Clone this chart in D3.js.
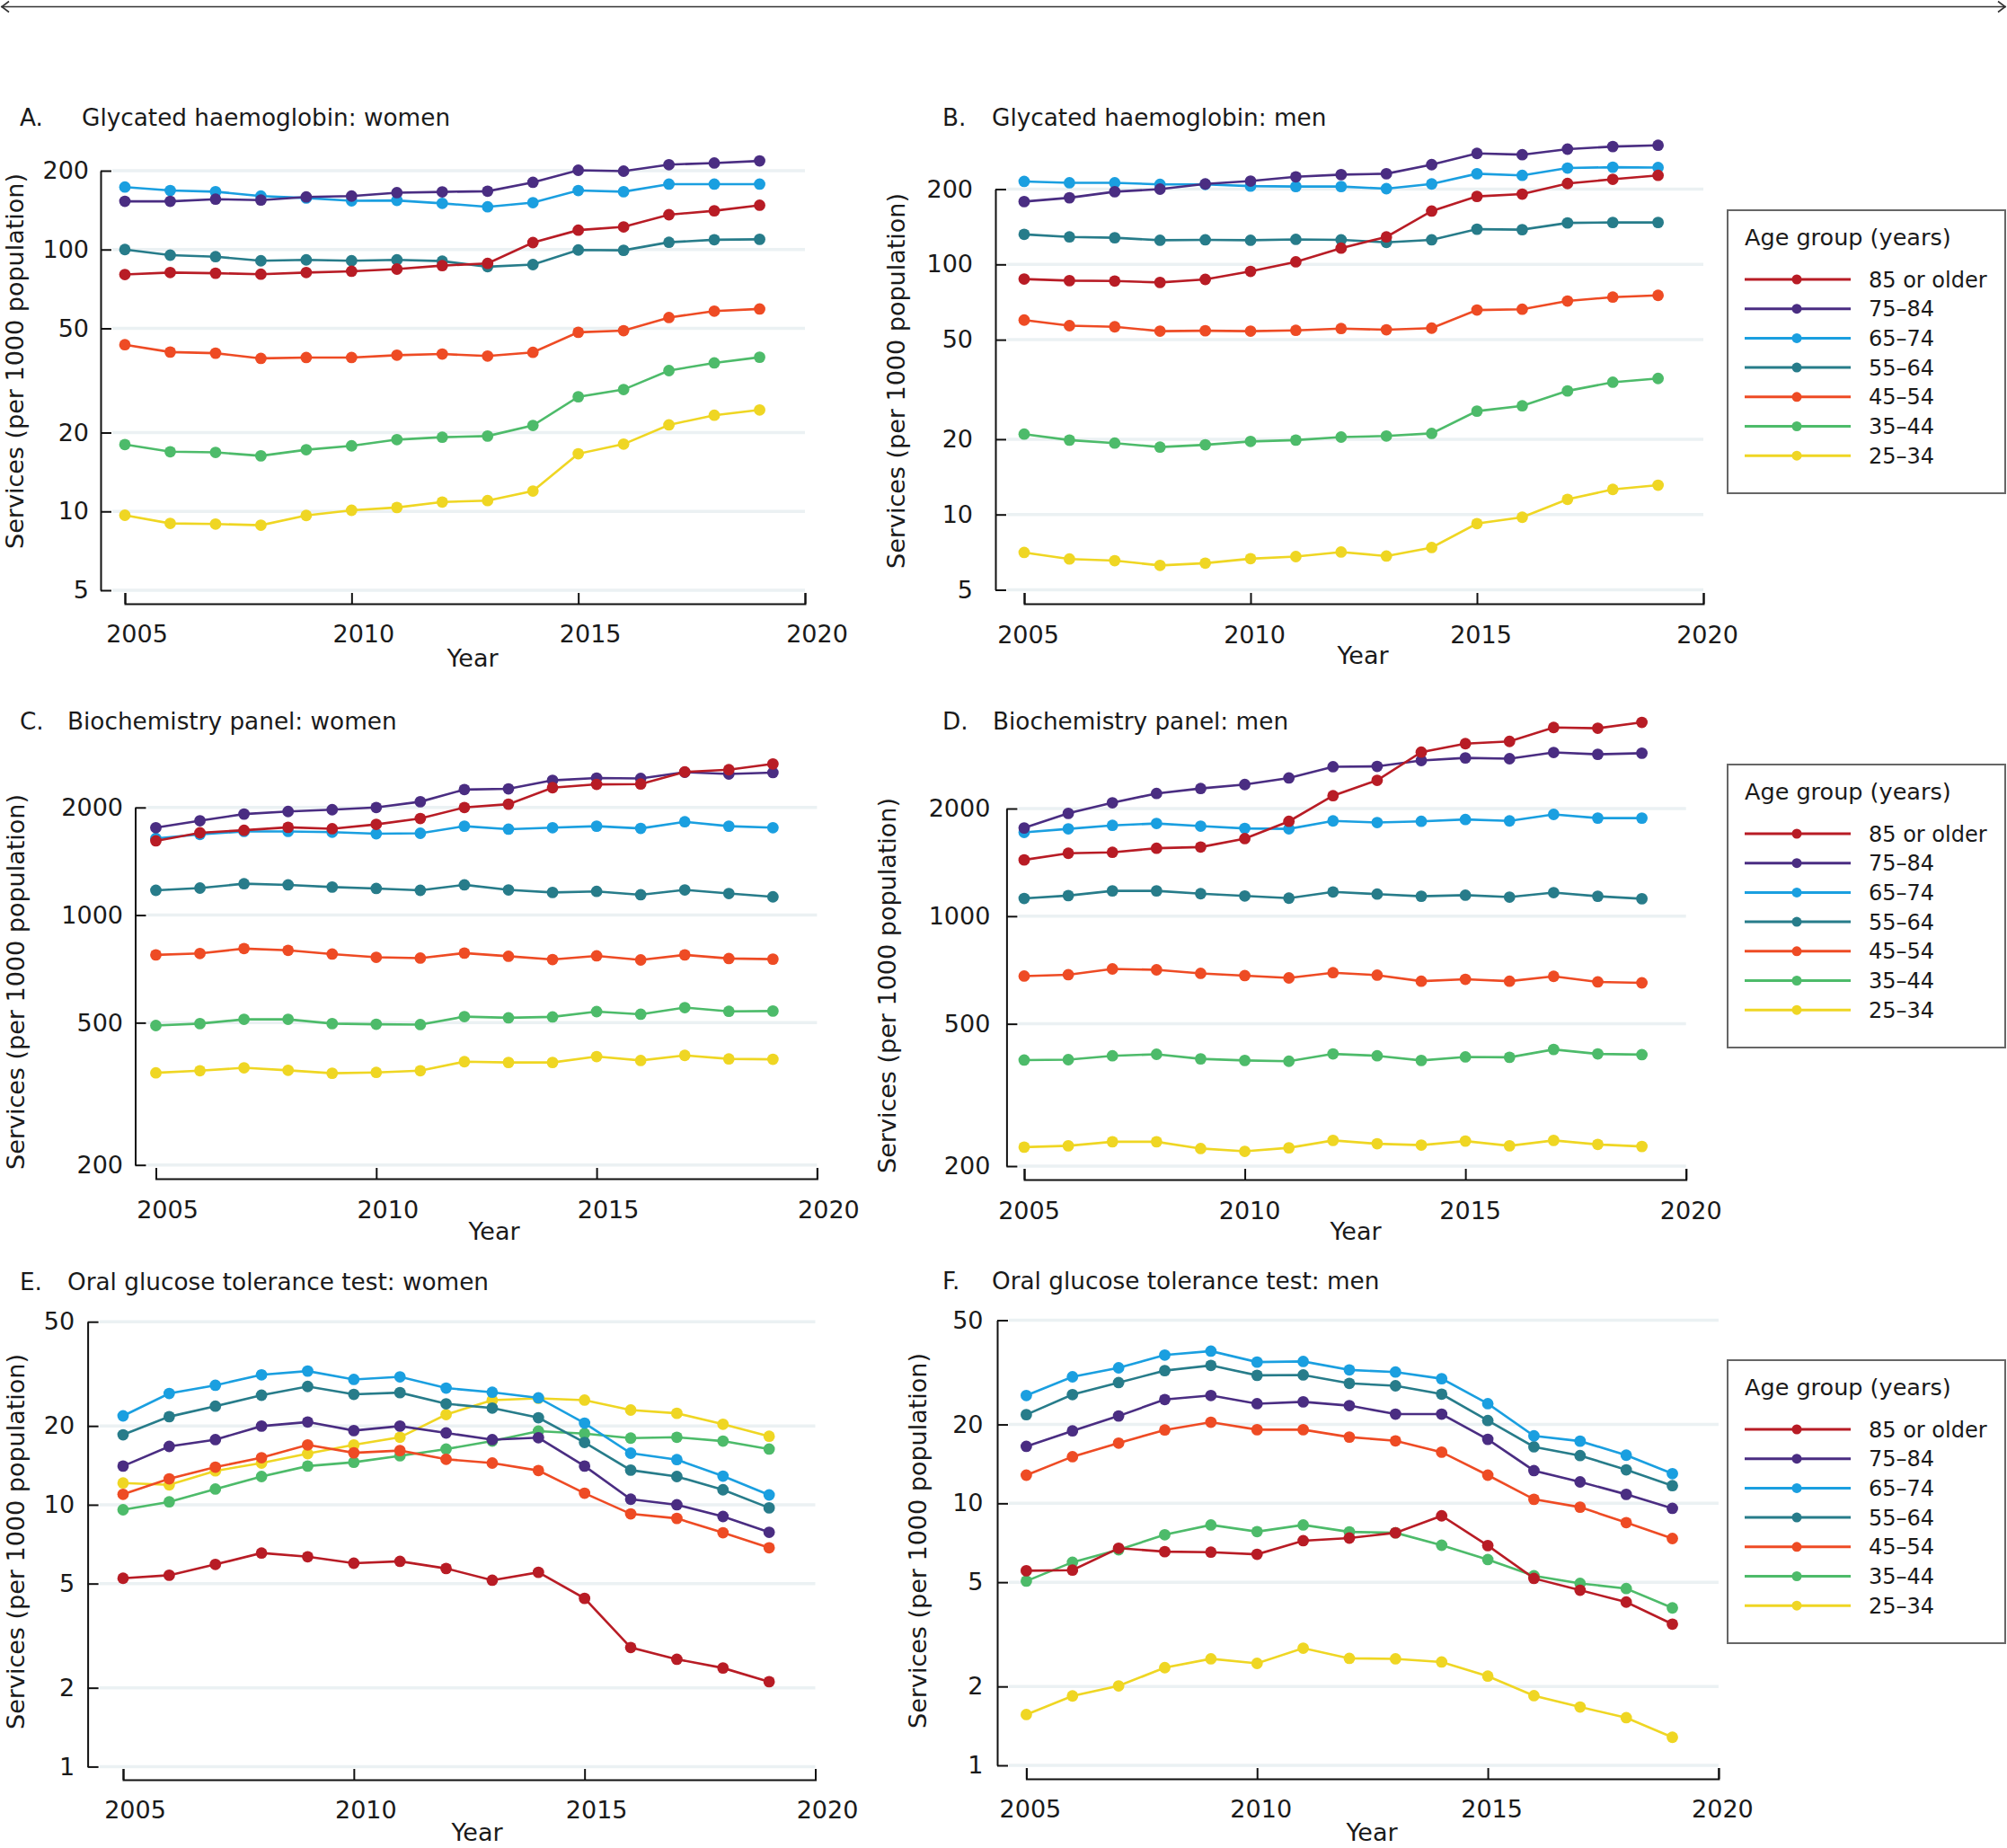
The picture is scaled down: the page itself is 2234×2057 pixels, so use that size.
<!DOCTYPE html>
<html>
<head>
<meta charset="utf-8">
<script src="https://cdn.jsdelivr.net/npm/d3@7"></script>
<style>
  body { margin: 0; background: #fff; }
  svg { display: block; }
  text { font-family: "DejaVu Sans", sans-serif; fill: #1a1a1a; }
</style>
</head>
<body>
<script>
// Data (services per 1000 population)
const years = d3.range(2005, 2020);
const ageGroups = ["85 or older", "75–84", "65–74", "55–64", "45–54", "35–44", "25–34"];
const ageColors = ["#b81c25", "#4a2d82", "#1a9fe0", "#277c8a", "#ee4b24", "#4dbb6a", "#efd623"];

// rows follow ageGroups order
const hbaWomen = [
  [80.3, 81.7, 81.2, 80.5, 81.7, 82.6, 84.2, 86.8, 88.5, 106.3, 118.6, 122, 135.8, 140.6, 147.6],
  [152.8, 152.8, 155.7, 154.5, 158.8, 160, 164.9, 166, 167, 180.6, 200.8, 199.2, 210.9, 214, 218],
  [173.2, 168, 166.3, 160, 157.3, 153.5, 154, 150.1, 145.6, 151, 168, 166.3, 177.7, 177.7, 177.7],
  [100, 95.2, 93.9, 90.6, 91.3, 90.6, 91.3, 90.3, 86, 87.6, 99.6, 99.3, 106.6, 109, 109.4],
  [43.3, 40.6, 40.2, 38.4, 38.7, 38.7, 39.5, 39.9, 39.2, 40.5, 48.3, 49, 55, 58.2, 59.3],
  [18, 16.9, 16.8, 16.3, 17.2, 17.8, 18.8, 19.2, 19.4, 21.3, 27.4, 29.2, 34.5, 36.9, 38.8],
  [9.67, 9.0, 8.95, 8.86, 9.65, 10.1, 10.35, 10.86, 11.0, 11.96, 16.6, 18.07, 21.4, 23.3, 24.4]
];
const hbaMen = [
  [87.4, 86.1, 85.8, 84.7, 87.1, 93.8, 102.4, 116.2, 128.8, 163.4, 187, 191, 210.6, 219, 227],
  [178.3, 184.7, 195.3, 200, 209.7, 215.4, 224, 228.5, 230.4, 250.6, 277.8, 274.6, 289, 296, 299.5],
  [214.7, 212, 212, 208.9, 208.9, 205.6, 204.8, 204.8, 200.8, 209.7, 230.4, 227, 242.8, 244.7, 243.9],
  [131.9, 128.8, 127.8, 124.9, 125.4, 124.9, 125.9, 125.4, 122.5, 125.4, 138.3, 137.7, 146.5, 147.1, 147.1],
  [59.9, 56.9, 56.3, 54.1, 54.3, 54.1, 54.5, 55.4, 54.8, 55.6, 65.7, 66.2, 71.4, 74, 75.2],
  [20.97, 19.84, 19.3, 18.6, 19.0, 19.6, 19.84, 20.4, 20.6, 21.1, 25.9, 27.2, 31.2, 33.8, 35.0],
  [7.05, 6.64, 6.54, 6.26, 6.39, 6.66, 6.79, 7.08, 6.82, 7.38, 9.2, 9.75, 11.5, 12.6, 13.1]
];
const bioWomen = [
  [1613, 1699, 1727, 1760, 1744, 1794, 1863, 2000, 2043, 2272, 2321, 2326, 2515, 2551, 2648],
  [1756, 1836, 1917, 1949, 1972, 2000, 2076, 2245, 2255, 2382, 2417, 2411, 2510, 2481, 2504],
  [1639, 1681, 1714, 1714, 1706, 1689, 1694, 1773, 1739, 1756, 1773, 1748, 1824, 1773, 1756],
  [1173, 1190, 1224, 1215, 1198, 1187, 1173, 1215, 1176, 1157, 1165, 1140, 1176, 1149, 1125],
  [774, 781, 806, 797, 778, 762, 758, 783, 767, 751, 769, 749, 774, 756, 753],
  [491, 497, 511, 511, 497, 495, 494, 520, 516, 519, 537, 528, 551, 538, 539],
  [362, 367, 374, 368, 361, 363, 367, 389, 387, 387, 402, 392, 405, 396, 395]
];
const bioMen = [
  [1437, 1500, 1509, 1549, 1561, 1648, 1842, 2173, 2399, 2877, 3038, 3082, 3371, 3355, 3484],
  [1765, 1939, 2076, 2204, 2276, 2335, 2436, 2618, 2624, 2725, 2771, 2757, 2870, 2836, 2857],
  [1715, 1755, 1795, 1817, 1786, 1760, 1755, 1847, 1828, 1842, 1864, 1847, 1926, 1881, 1881],
  [1121, 1142, 1177, 1177, 1156, 1139, 1123, 1169, 1153, 1137, 1145, 1131, 1164, 1137, 1119],
  [680, 686, 712, 708, 692, 682, 672, 695, 684, 658, 666, 658, 679, 655, 651],
  [396, 397, 407, 411, 399, 395, 393, 412, 407, 395, 404, 403, 424, 412, 410],
  [226, 228, 234, 234, 224, 220, 225, 236, 231, 229, 235, 228, 236, 230, 227]
];
const ogttWomen = [
  [5.24, 5.38, 5.92, 6.54, 6.33, 5.98, 6.08, 5.71, 5.15, 5.52, 4.39, 2.85, 2.57, 2.38, 2.11],
  [14.05, 16.7, 17.73, 19.97, 20.7, 19.2, 19.97, 18.8, 17.73, 18.03, 14.05, 10.5, 10.0, 9.02, 7.85],
  [21.85, 26.6, 28.6, 31.35, 32.4, 30.1, 30.8, 27.9, 26.9, 25.6, 20.5, 15.74, 14.87, 12.86, 10.9],
  [18.5, 21.7, 23.8, 26.2, 28.3, 26.4, 26.8, 24.3, 23.4, 21.5, 17.3, 13.56, 12.82, 11.41, 9.73],
  [10.96, 12.56, 13.92, 15.12, 16.93, 15.79, 16.1, 14.92, 14.43, 13.51, 11.07, 9.23, 8.87, 7.82, 6.85],
  [9.57, 10.26, 11.48, 12.82, 14.05, 14.53, 15.38, 16.32, 17.5, 19.1, 18.7, 17.97, 18.1, 17.5, 16.32],
  [12.11, 11.91, 13.47, 14.43, 15.68, 16.93, 18.1, 22.1, 25.1, 25.5, 25.1, 23.0, 22.35, 20.3, 18.26]
];
const ogttMen = [
  [5.53, 5.56, 6.74, 6.54, 6.51, 6.39, 7.2, 7.37, 7.72, 8.96, 6.9, 5.17, 4.66, 4.2, 3.46],
  [16.5, 18.9, 21.55, 24.9, 25.8, 24.0, 24.4, 23.6, 21.9, 21.9, 17.55, 13.33, 12.07, 10.82, 9.57],
  [25.8, 30.4, 32.9, 36.8, 38.1, 34.6, 34.8, 32.3, 31.7, 29.9, 24.0, 18.1, 17.27, 15.27, 12.98],
  [21.8, 26.0, 28.9, 32.1, 33.6, 30.8, 30.9, 28.7, 28.1, 26.1, 20.7, 16.43, 15.22, 13.42, 11.68],
  [12.81, 15.07, 16.98, 19.06, 20.4, 19.1, 19.1, 17.9, 17.32, 15.68, 12.81, 10.36, 9.67, 8.44, 7.34],
  [5.05, 5.96, 6.65, 7.59, 8.27, 7.8, 8.27, 7.78, 7.72, 6.92, 6.1, 5.29, 4.95, 4.73, 3.99],
  [1.563, 1.84, 2.01, 2.36, 2.55, 2.45, 2.8, 2.56, 2.55, 2.48, 2.19, 1.845, 1.67, 1.52, 1.28]
];

const xTicks = [2005, 2010, 2015, 2020];
const hbaTicks = [5, 10, 20, 50, 100, 200];
const bioTicks = [200, 500, 1000, 2000];
const ogttTicks = [1, 2, 5, 10, 20, 50];

const panels = [
  { letter: "A.", title: "Glycated haemoglobin: women", data: hbaWomen, ticks: hbaTicks,
    axisX: 112, yTop: 190, yBottom: 657, x0: 139, x1: 896, xAxisY: 672, gap: 13,
    letterX: 22, titleX: 91, titleY: 140, labOff: 13, labY: 715, yearX: 526, yearY: 742,
    ytX: 16, ytY: 402, legend: null },
  { letter: "B.", title: "Glycated haemoglobin: men", data: hbaMen, ticks: hbaTicks,
    axisX: 1108, yTop: 210.5, yBottom: 656.5, x0: 1140, x1: 1896, xAxisY: 672, gap: 25,
    letterX: 1049, titleX: 1104, titleY: 140, labOff: 4, labY: 716, yearX: 1517, yearY: 739,
    ytX: 997, ytY: 424, legend: 234 },
  { letter: "C.", title: "Biochemistry panel: women", data: bioWomen, ticks: bioTicks,
    axisX: 150.5, yTop: 898.8, yBottom: 1296.7, x0: 173.5, x1: 909.4, xAxisY: 1312, gap: 13.5,
    letterX: 22, titleX: 75, titleY: 812, labOff: 12.5, labY: 1356, yearX: 550, yearY: 1380,
    ytX: 17, ytY: 1093, legend: null },
  { letter: "D.", title: "Biochemistry panel: men", data: bioMen, ticks: bioTicks,
    axisX: 1120.4, yTop: 900, yBottom: 1298, x0: 1140, x1: 1876.7, xAxisY: 1313, gap: 18,
    letterX: 1049, titleX: 1105, titleY: 812, labOff: 5, labY: 1357, yearX: 1509, yearY: 1380,
    ytX: 987, ytY: 1097, legend: 851 },
  { letter: "E.", title: "Oral glucose tolerance test: women", data: ogttWomen, ticks: ogttTicks,
    axisX: 97.6, yTop: 1471.2, yBottom: 1966.4, x0: 137, x1: 907.5, xAxisY: 1981, gap: 14.5,
    letterX: 22, titleX: 75, titleY: 1436, labOff: 13, labY: 2024, yearX: 531, yearY: 2049,
    ytX: 17, ytY: 1716, legend: null },
  { letter: "F.", title: "Oral glucose tolerance test: men", data: ogttMen, ticks: ogttTicks,
    axisX: 1110, yTop: 1469.5, yBottom: 1965, x0: 1142.4, x1: 1912.9, xAxisY: 1980, gap: 15.5,
    letterX: 1049, titleX: 1104, titleY: 1435, labOff: 4, labY: 2023, yearX: 1527, yearY: 2048.5,
    ytX: 1021, ytY: 1715, legend: 1514 }
];

const W = 2234, H = 2057;
const fontSize = 27;
const titleSize = 26.3;

const svg = d3.select("body").append("svg")
    .attr("width", W)
    .attr("height", H)
    .attr("viewBox", [0, 0, W, H]);

// Top double-headed rule
const rule = svg.append("g").attr("stroke", "#333").attr("stroke-width", 1.6).attr("fill", "none");
rule.append("line").attr("x1", 1).attr("x2", W - 1).attr("y1", 7.5).attr("y2", 7.5);
rule.append("path").attr("d", "M10,1.5 L2,7.5 L10,13.5");
rule.append("path").attr("d", `M${W - 10},1.5 L${W - 2},7.5 L${W - 10},13.5`);

panels.forEach(p => {
    const g = svg.append("g");

    const x = d3.scaleLinear().domain([2005, 2020]).range([p.x0, p.x1]);
    const y = d3.scaleLog()
        .domain([p.ticks[0], p.ticks[p.ticks.length - 1]])
        .range([p.yBottom, p.yTop]);

    // Gridlines
    g.append("g").selectAll("line")
        .data(p.ticks)
        .join("line")
        .attr("x1", p.axisX + 13)
        .attr("x2", p.x1)
        .attr("y1", d => y(d))
        .attr("y2", d => y(d))
        .attr("stroke", "#ebf1f3")
        .attr("stroke-width", 3.5);

    // Y axis
    const yAxis = g.append("g")
        .attr("transform", `translate(${p.axisX},0)`)
        .call(d3.axisLeft(y)
            .tickValues(p.ticks)
            .tickFormat(d3.format("d"))
            .tickSizeInner(-12)
            .tickSizeOuter(0)
            .tickPadding(p.gap));
    yAxis.attr("font-family", null).attr("font-size", null);
    yAxis.selectAll("path, line").attr("stroke", "#111").attr("stroke-width", 2);
    yAxis.selectAll("text").style("font-size", fontSize + "px").attr("fill", "#1a1a1a");

    // X axis
    const xAxis = g.append("g")
        .attr("transform", `translate(0,${p.xAxisY})`)
        .call(d3.axisBottom(x)
            .tickValues(xTicks)
            .tickFormat(d3.format("d"))
            .tickSize(-12));
    xAxis.attr("font-family", null).attr("font-size", null);
    xAxis.selectAll("path, line").attr("stroke", "#111").attr("stroke-width", 2);
    xAxis.selectAll("text")
        .style("font-size", fontSize + "px")
        .attr("fill", "#1a1a1a")
        .attr("x", p.labOff)
        .attr("y", p.labY - p.xAxisY)
        .attr("dy", 0);

    // Titles
    g.append("text").attr("x", p.letterX).attr("y", p.titleY)
        .style("font-size", titleSize + "px").text(p.letter);
    g.append("text").attr("x", p.titleX).attr("y", p.titleY)
        .style("font-size", titleSize + "px").text(p.title);

    g.append("text")
        .attr("x", p.yearX).attr("y", p.yearY)
        .attr("text-anchor", "middle")
        .style("font-size", fontSize + "px")
        .text("Year");

    g.append("text")
        .attr("transform", `translate(${p.ytX},${p.ytY}) rotate(-90)`)
        .attr("text-anchor", "middle")
        .attr("dy", "0.36em")
        .style("font-size", fontSize + "px")
        .text("Services (per 1000 population)");

    // Series: youngest first so the oldest group sits on top
    const line = d3.line()
        .x((d, i) => x(years[i]))
        .y(d => y(d));

    const order = d3.range(ageGroups.length).reverse();
    order.forEach(k => {
        const s = g.append("g");
        s.append("path")
            .datum(p.data[k])
            .attr("d", line)
            .attr("fill", "none")
            .attr("stroke", ageColors[k])
            .attr("stroke-width", 2.6);
        s.selectAll("circle")
            .data(p.data[k])
            .join("circle")
            .attr("cx", (d, i) => x(years[i]))
            .attr("cy", d => y(d))
            .attr("r", 6.4)
            .attr("fill", ageColors[k]);
    });

    // Legend
    if (p.legend !== null) {
        const lg = svg.append("g").attr("transform", `translate(1923,${p.legend})`);
        lg.append("rect")
            .attr("width", 309).attr("height", 315)
            .attr("fill", "#fff")
            .attr("stroke", "#666")
            .attr("stroke-width", 2);
        lg.append("text")
            .attr("x", 19).attr("y", 39)
            .style("font-size", "25.5px")
            .text("Age group (years)");
        const rows = lg.selectAll("g.row")
            .data(ageGroups)
            .join("g")
            .attr("class", "row")
            .attr("transform", (d, i) => `translate(0,${77 + i * 32.7})`);
        rows.append("line")
            .attr("x1", 19).attr("x2", 137)
            .attr("stroke", (d, i) => ageColors[i])
            .attr("stroke-width", 3);
        rows.append("circle")
            .attr("cx", 77).attr("r", 5.5)
            .attr("fill", (d, i) => ageColors[i]);
        rows.append("text")
            .attr("x", 157).attr("dy", "0.36em")
            .style("font-size", "24px")
            .text(d => d);
    }
});
</script>
</body>
</html>
